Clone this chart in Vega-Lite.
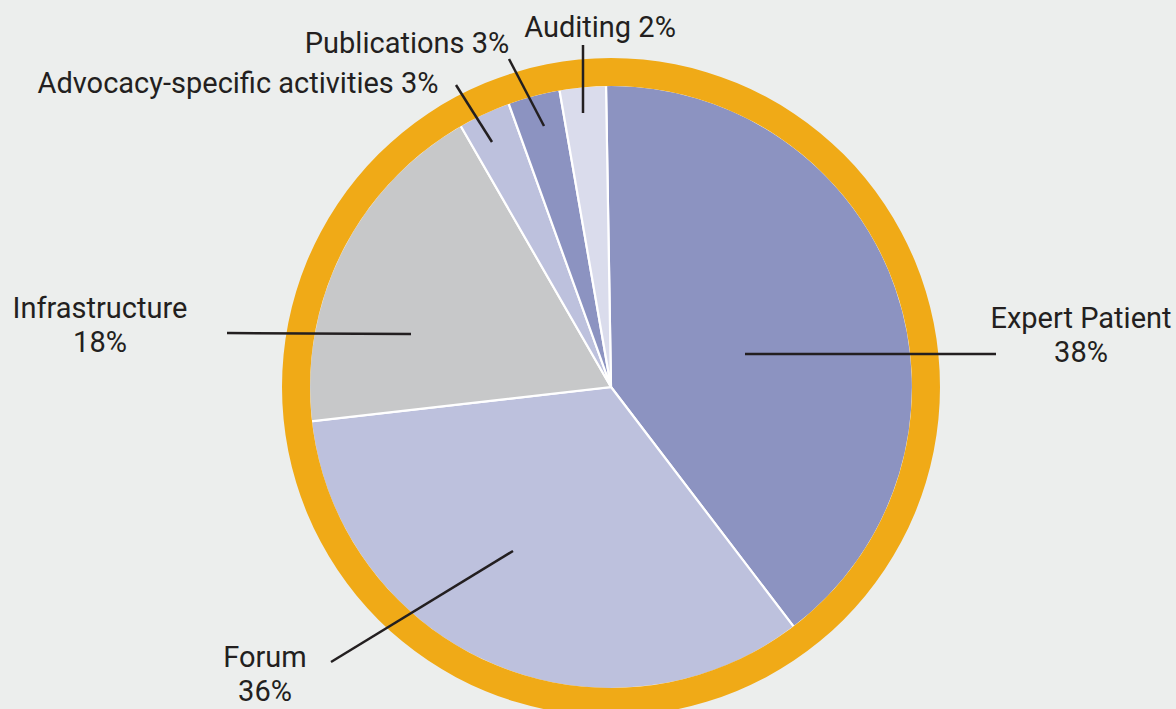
{
  "$schema": "https://vega.github.io/schema/vega-lite/v6.json",
  "width": 1176,
  "height": 709,
  "autosize": {"type": "none"},
  "padding": 0,
  "background": "#eceeed",
  "view": {"stroke": null},
  "layer": [
    {
      "data": {"values": [
        {"category": "Expert Patient", "share": 39.9, "rank": 1},
        {"category": "Forum", "share": 33.55, "rank": 2},
        {"category": "Infrastructure", "share": 18.5, "rank": 3},
        {"category": "Advocacy-specific activities", "share": 2.8, "rank": 4},
        {"category": "Publications", "share": 2.78, "rank": 5},
        {"category": "Auditing", "share": 2.47, "rank": 6}
      ]},
      "mark": {"type": "arc", "outerRadius": 302, "innerRadius": 0, "stroke": "#ffffff", "strokeWidth": 2.2},
      "encoding": {
        "x": {"datum": 0, "type": "quantitative", "scale": {"domain": [-611, 565], "nice": false, "zero": false}, "axis": null},
        "y": {"datum": 0, "type": "quantitative", "scale": {"domain": [-322, 387], "nice": false, "zero": false}, "axis": null},
        "theta": {"field": "share", "type": "quantitative", "stack": true, "scale": {"range": [-0.0166, 6.2666]}},
        "order": {"field": "rank", "type": "quantitative"},
        "color": {
          "field": "category", "type": "nominal", "legend": null,
          "scale": {
            "domain": ["Expert Patient", "Forum", "Infrastructure", "Advocacy-specific activities", "Publications", "Auditing"],
            "range": ["#8c93c1", "#bdc1dd", "#c7c8c9", "#bdc1dd", "#8c93c1", "#dadcec"]
          }
        }
      }
    },
    {
      "data": {"values": [{"frame": "ring"}]},
      "mark": {"type": "arc", "innerRadius": 301, "outerRadius": 329, "theta": 0, "theta2": 6.2832, "color": "#f0aa17"},
      "encoding": {
        "x": {"datum": 0, "type": "quantitative", "scale": {"domain": [-611, 565], "nice": false, "zero": false}, "axis": null},
        "y": {"datum": 0, "type": "quantitative", "scale": {"domain": [-322, 387], "nice": false, "zero": false}, "axis": null}
      }
    },
    {
      "data": {"values": [
        {"label": "Expert Patient\n38%", "x1": 134, "y1": 33, "x2": 385, "y2": 33, "tx": 470, "ty": 59},
        {"label": "Forum\n36%", "x1": -98, "y1": -164, "x2": -280, "y2": -275, "tx": -346, "ty": -280},
        {"label": "Infrastructure\n18%", "x1": -200, "y1": 53, "x2": -384, "y2": 54, "tx": -511, "ty": 69},
        {"label": "Advocacy-specific activities 3%", "x1": -119, "y1": 245, "x2": -155, "y2": 302, "tx": -373, "ty": 294},
        {"label": "Publications 3%", "x1": -67, "y1": 261, "x2": -102, "y2": 328, "tx": -204, "ty": 334},
        {"label": "Auditing 2%", "x1": -28, "y1": 274, "x2": -28, "y2": 342, "tx": -11, "ty": 350}
      ]},
      "layer": [
        {
          "mark": {"type": "rule", "color": "#231f20", "strokeWidth": 2.5},
          "encoding": {
            "x": {"field": "x1", "type": "quantitative", "scale": {"domain": [-611, 565], "nice": false, "zero": false}, "axis": null},
            "y": {"field": "y1", "type": "quantitative", "scale": {"domain": [-322, 387], "nice": false, "zero": false}, "axis": null},
            "x2": {"field": "x2"},
            "y2": {"field": "y2"}
          }
        },
        {
          "mark": {"type": "text", "font": "Roboto", "fontSize": 29, "fontWeight": 400, "color": "#231f20", "align": "center", "baseline": "alphabetic", "lineBreak": "\n", "lineHeight": 34},
          "encoding": {
            "x": {"field": "tx", "type": "quantitative", "scale": {"domain": [-611, 565], "nice": false, "zero": false}, "axis": null},
            "y": {"field": "ty", "type": "quantitative", "scale": {"domain": [-322, 387], "nice": false, "zero": false}, "axis": null},
            "text": {"field": "label", "type": "nominal"}
          }
        }
      ]
    }
  ]
}
